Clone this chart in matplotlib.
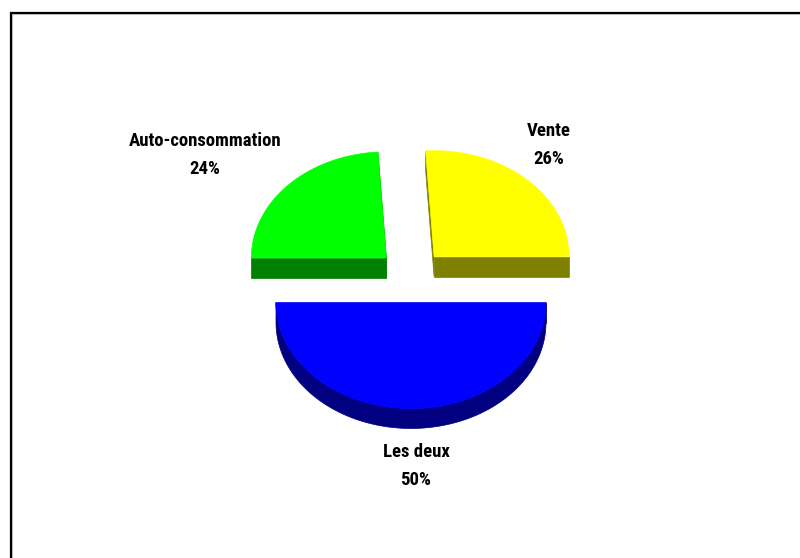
import numpy as np
import matplotlib
matplotlib.use("Agg")
import matplotlib.pyplot as plt
from matplotlib.patches import Polygon

# data (counter-clockwise from 3 o'clock)
labels = ["Vente", "Auto-consommation", "Les deux"]
values = [26, 24, 50]
top_colors = ["#FFFF00", "#00FF00", "#0000FF"]
side_colors = ["#808000", "#008000", "#000080"]

# label anchor offsets from the pie centre (pixels), per slice
label_offsets = [(138, -131), (-206, -121), (5, 190)]

# geometry of the fake 3-D pie (pixel units)
cx, cy = 411, 276
rx, ry = 135, 106
depth = 20
explode = 0.25

fig = plt.figure(figsize=(8, 5.58), dpi=100)
ax = fig.add_axes([0, 0, 1, 1])
ax.set_xlim(0, 800)
ax.set_ylim(558, 0)
ax.axis("off")

# chart frame (runs off the right and bottom)
ax.plot([10.5, 10.5, 802], [560, 12.5, 12.5], color="black", lw=1.6,
        solid_joinstyle="miter")
ax.plot([12, 12, 802], [560, 14, 14], color="#b0b0b0", lw=0.6)


def pt(a, ox, oy, dz=0):
    return (ox + rx * np.cos(np.radians(a)), oy - ry * np.sin(np.radians(a)) + dz)


fracs = np.array(values) / sum(values)
bounds = np.concatenate([[0], np.cumsum(fracs) * 360])

wedges = []
for i in range(len(values)):
    a0, a1 = bounds[i], bounds[i + 1]
    mid = np.radians((a0 + a1) / 2)
    ox = cx + explode * rx * np.cos(mid)
    oy = cy - explode * ry * np.sin(mid)
    wedges.append((a0, a1, ox, oy))

# back slices first (upper ones), then the front half
order = sorted(range(len(values)), key=lambda i: wedges[i][3])
for i in order:
    a0, a1, ox, oy = wedges[i]
    # outer wall, only where it faces the viewer (lower half of the ellipse)
    lo, hi = max(a0, 180), min(a1, 360)
    if hi > lo:
        arc = np.linspace(lo, hi, 120)
        topc = [pt(a, ox, oy) for a in arc]
        botc = [pt(a, ox, oy, depth) for a in arc[::-1]]
        ax.add_patch(Polygon(topc + botc, closed=True, fc=side_colors[i],
                             ec=side_colors[i], lw=0.5))
    # radial faces
    for a in (a0, a1):
        p = pt(a, ox, oy)
        ax.add_patch(Polygon([(ox, oy), p, (p[0], p[1] + depth), (ox, oy + depth)],
                             closed=True, fc=side_colors[i], ec=side_colors[i], lw=0.5))
    # top face
    arc = np.linspace(a0, a1, 200)
    ax.add_patch(Polygon([(ox, oy)] + [pt(a, ox, oy) for a in arc], closed=True,
                         fc=top_colors[i], ec=top_colors[i], lw=0.5))

# labels
for i in range(len(values)):
    dx, dy = label_offsets[i]
    ax.text(cx + dx, cy + dy, f"{labels[i]}\n{values[i]}%", ha="center", va="center",
            fontsize=13.5, fontweight="bold", linespacing=1.7,
            family=["Roboto Condensed", "Roboto", "DejaVu Sans"])

fig.savefig("out.png", dpi=100)
